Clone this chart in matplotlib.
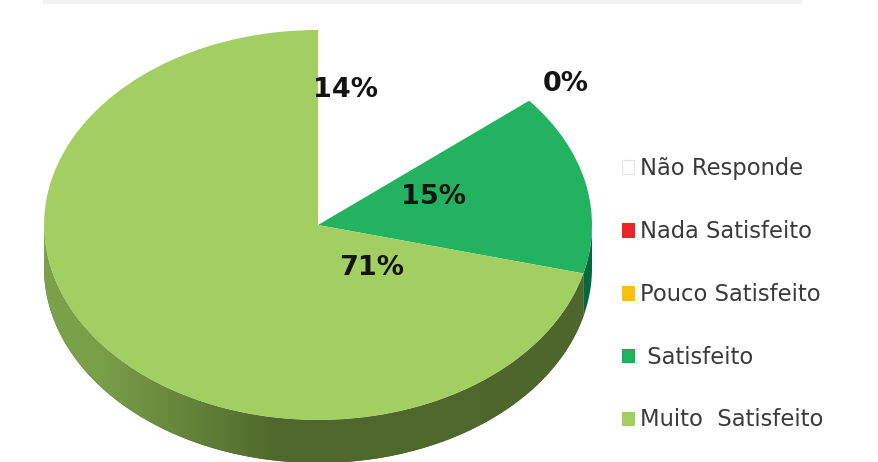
import matplotlib
matplotlib.use("Agg")  # headless
import matplotlib.pyplot as plt
import numpy as np
from matplotlib.patches import Patch, PathPatch
from matplotlib.path import Path
from matplotlib.transforms import Affine2D
from matplotlib.colors import LinearSegmentedColormap

categories = ["Não Responde", "Nada Satisfeito", "Pouco Satisfeito", " Satisfeito", "Muito  Satisfeito"]
values = [14, 0, 0, 15, 71]
colors = ["#ffffff", "#e8262a", "#fdc010", "#23b25f", "#a3cf62"]
swatch_edges = ["#e4e4e4", "#e8262a", "#fdc010", "#23a565", "#a3cf62"]
side_colors = ["#ffffff", "#a01a1c", "#b08000", "#00693e", "#4e662b"]
label_values = [14, 0, 15, 71]

W, H = 879, 462
CX, CY, RX, RY = 318, 225, 274, 195  # pie ellipse in pixels
DEPTH = 43 / RY

fig = plt.figure(figsize=(W / 100, H / 100), dpi=100)
ax = fig.add_axes([0, 0, 1, 1])
px = Affine2D().scale(1, -1).translate(0, H)  # pixels from the top left


def side_patch(a0, a1):
    # outer wall of the pie between two clockwise angles (degrees from north)
    t = np.radians(np.linspace(a0, a1, 100))
    x, y = np.sin(t), np.cos(t)
    verts = np.r_[np.c_[x, y], np.c_[x[::-1], y[::-1] - DEPTH], [[x[0], y[0]]]]
    return Path(verts)


# ---- side wall, only the front half of the ellipse shows --------------------
edges = np.r_[0, np.cumsum(values)] * 3.6
for i, c in enumerate(side_colors):
    a0, a1 = max(edges[i], 90), min(edges[i + 1], 270)
    if a1 <= a0:
        continue
    patch = PathPatch(side_patch(a0, a1), fc=c, ec="none", zorder=1)
    ax.add_patch(patch)
    if i == 4:
        # light falls on the left of the big slice
        cmap = LinearSegmentedColormap.from_list(
            "side", [(0, "#7ba24a"), (0.1, "#7a9f49"), (0.42, "#4f692c"), (1, "#4e662b")])
        im = ax.imshow(np.linspace(0, 1, 256)[None, :], cmap=cmap, aspect="auto",
                       extent=(-1, 1, -1.3, 0), zorder=1.5)
        im.set_clip_path(patch)

# ---- top of the pie ---------------------------------------------------------
ax.pie(values, colors=colors, startangle=90, counterclock=False, radius=1,
       wedgeprops={"edgecolor": "none", "zorder": 2})
ax.set_aspect("auto")
ax.set_xlim(-CX / RX, (W - CX) / RX)
ax.set_ylim((CY - H) / RY, CY / RY)
ax.axis("off")

# ---- percentages ------------------------------------------------------------
label_xy = [(345, 90), (566, 84), (434, 197), (372, 268)]
for v, (x, y) in zip(label_values, label_xy):
    ax.text(x, y, f"{v}%", transform=px, ha="center", va="center", fontsize=19.5,
            fontweight="bold", color="#141414", zorder=5)

# ---- legend -----------------------------------------------------------------
handles = [Patch(fc=c, ec=e, lw=0.8) for c, e in zip(colors, swatch_edges)]
leg = ax.legend(handles, categories, loc="upper left", frameon=False,
                bbox_to_anchor=(622 / W, 1 - 157 / H), bbox_transform=fig.transFigure,
                fontsize=16.3, labelcolor="#3a3a3a", handlelength=0.52, handleheight=0.55,
                handletextpad=0.27, labelspacing=1.76, borderpad=0, borderaxespad=0)

# cut-off caption line at the very top of the scan
ax.plot([45, 800], [2, 2], color="#f2f2f2", lw=3, transform=px, zorder=0)

fig.savefig("out.png", dpi=100)
plt.close(fig)
